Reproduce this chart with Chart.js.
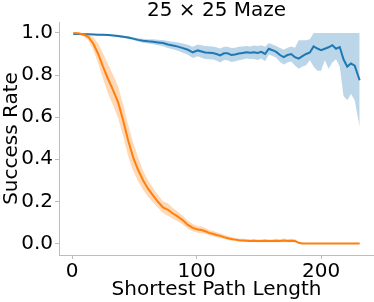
<!DOCTYPE html>
<html><head><meta charset="utf-8">
<script src="https://cdn.jsdelivr.net/npm/chart.js@4"></script>
<style>html,body{margin:0;padding:0;background:#fff}canvas{display:block}</style>
</head><body>
<canvas id="c" width="374" height="302"></canvas>
<script>
const pathLength = [1,5,9,13,17,21,25,29,33,37,41,45,49,53,57,61,65,69,73,77,81,85,89,93,97,101,
104,107,110,113,116,119,122,125,128,131,134,137,140,143,146,149,152,155,158,161,164,167,170,173,176,179,
182,185,188,191,194,197,200,203,206,209,212,215,218,221,224,227,231];

const blueMean = [0.995,0.995,0.994,0.994,0.993,0.992,0.991,0.99,0.988,0.985,0.982,0.978,0.973,0.967,0.963,0.96,0.958,0.955,0.952,0.945,0.94,0.935,0.928,0.92,0.908,0.917,
0.912,0.907,0.906,0.905,0.9,0.893,0.903,0.903,0.895,0.898,0.902,0.905,0.908,0.906,0.908,0.905,0.91,0.9,0.925,0.918,0.91,0.895,0.885,0.895,0.9,0.885,
0.878,0.89,0.9,0.907,0.936,0.926,0.918,0.925,0.932,0.942,0.925,0.933,0.875,0.84,0.855,0.845,0.775];
const blueHigh = [0.998,0.998,0.997,0.997,0.996,0.995,0.994,0.994,0.992,0.99,0.987,0.984,0.98,0.975,0.972,0.97,0.97,0.968,0.967,0.962,0.958,0.955,0.95,0.944,0.935,0.945,
0.942,0.938,0.937,0.936,0.932,0.926,0.935,0.935,0.928,0.93,0.934,0.936,0.938,0.936,0.94,0.938,0.942,0.935,0.952,0.945,0.938,0.928,0.92,0.93,0.936,0.93,
0.965,0.965,0.965,0.97,1,1,1,1,1,1,1,1,1,1,1,1,1];
const blueLow = [0.992,0.992,0.991,0.991,0.99,0.989,0.987,0.986,0.984,0.98,0.977,0.972,0.966,0.959,0.954,0.95,0.946,0.942,0.937,0.928,0.922,0.915,0.906,0.896,0.881,0.889,
0.882,0.876,0.875,0.874,0.868,0.86,0.871,0.87,0.862,0.866,0.87,0.874,0.878,0.876,0.876,0.872,0.878,0.865,0.898,0.891,0.882,0.862,0.85,0.86,0.864,0.845,
0.83,0.84,0.847,0.87,0.84,0.82,0.82,0.87,0.83,0.86,0.875,0.84,0.70,0.68,0.71,0.68,0.553];

const orangeMean = [1.0,0.998,0.993,0.982,0.95,0.9,0.838,0.78,0.727,0.67,0.585,0.49,0.41,0.35,0.30,0.26,0.228,0.198,0.171,0.16,0.142,0.127,0.11,0.088,0.074,0.066,
0.064,0.058,0.05,0.046,0.04,0.036,0.03,0.025,0.021,0.018,0.015,0.014,0.013,0.012,0.013,0.011,0.012,0.013,0.011,0.012,0.013,0.012,0.014,0.012,0.013,0.012,
0.003,0,0,0,0,0,0,0,0,0,0,0,0,0,0,0,0];
const orangeHigh = [1.0,0.999,0.998,0.995,0.98,0.95,0.9,0.85,0.8,0.745,0.66,0.565,0.48,0.41,0.345,0.3,0.262,0.23,0.2,0.19,0.168,0.15,0.132,0.108,0.092,0.082,
0.08,0.073,0.064,0.06,0.053,0.048,0.041,0.035,0.03,0.026,0.023,0.022,0.021,0.02,0.021,0.019,0.02,0.021,0.019,0.02,0.022,0.02,0.023,0.021,0.022,0.021,
0.006,0,0,0,0,0,0,0,0,0,0,0,0,0,0,0,0];
const orangeLow = [1.0,0.996,0.985,0.965,0.92,0.855,0.78,0.71,0.655,0.595,0.51,0.415,0.345,0.295,0.255,0.222,0.195,0.17,0.144,0.132,0.117,0.104,0.09,0.07,0.058,0.051,
0.05,0.045,0.038,0.034,0.029,0.026,0.021,0.017,0.013,0.011,0.009,0.008,0.007,0.006,0.007,0.005,0.005,0.006,0.005,0.005,0.006,0.005,0.006,0.005,0.005,0.004,
0.001,0,0,0,0,0,0,0,0,0,0,0,0,0,0,0,0];

const xTicks = [0, 100, 200];
const yTicks = [0, 0.2, 0.4, 0.6, 0.8, 1.0];
const titleText = '25 × 25 Maze';
const xTitle = 'Shortest Path Length';
const yTitle = 'Success Rate';

const BLUE = '#1f77b4', ORANGE = '#ff7f0e';
const pts = arr => pathLength.map((x, i) => ({x: x, y: arr[i]}));
const FONT = {family: 'DejaVu Sans', size: 20, weight: 'normal'};
const AXC = '#bdbdbd';

function band(arr, color, fill, order) {
  return {data: pts(arr), borderWidth: 0, pointRadius: 0, backgroundColor: color,
          fill: fill, order: order, tension: 0};
}

new Chart(document.getElementById('c'), {
  type: 'line',
  data: {datasets: [
    band(blueHigh, 'rgba(31,119,180,0.3)', '+1', 4),
    band(blueLow, 'rgba(31,119,180,0.3)', false, 4),
    band(orangeHigh, 'rgba(255,127,14,0.3)', '+1', 2),
    band(orangeLow, 'rgba(255,127,14,0.3)', false, 2),
    {data: pts(blueMean), borderColor: BLUE, borderWidth: 2, pointRadius: 0, fill: false, order: 3},
    {data: pts(orangeMean), borderColor: ORANGE, borderWidth: 2, pointRadius: 0, fill: false, order: 1}
  ]},
  options: {
    responsive: false, animation: false, devicePixelRatio: 1,
    layout: {padding: 0},
    plugins: {
      legend: {display: false}, tooltip: {enabled: false},
      title: {display: true, text: titleText, color: '#000', fullSize: false,
              font: {family: 'DejaVu Sans', size: 20, weight: 'normal', lineHeight: 1.0},
              padding: {top: 1, bottom: 1}}
    },
    scales: {
      x: {type: 'linear', min: -10.5, max: 242.5,
          afterBuildTicks: s => { s.ticks = xTicks.map(v => ({value: v})); },
          afterFit: s => { s.height = 47; },
          border: {display: true, color: AXC, width: 1},
          grid: {display: true, drawOnChartArea: false, drawTicks: true, tickLength: 4, color: AXC},
          ticks: {color: '#000', font: FONT, padding: 1, maxRotation: 0},
          title: {display: true, text: xTitle, color: '#000', font: FONT, padding: 0}
      },
      y: {type: 'linear', min: -0.055, max: 1.052,
          afterBuildTicks: s => { s.ticks = yTicks.map(v => ({value: v})); },
          afterFit: s => { s.width = 59; },
          border: {display: true, color: AXC, width: 1},
          grid: {display: true, drawOnChartArea: false, drawTicks: true, tickLength: 4, color: AXC},
          ticks: {color: '#000', font: FONT, padding: 2, callback: v => v.toFixed(1)},
          title: {display: true, text: yTitle, color: '#000', font: FONT, padding: 0}
      }
    }
  }
});
</script>
</body></html>
